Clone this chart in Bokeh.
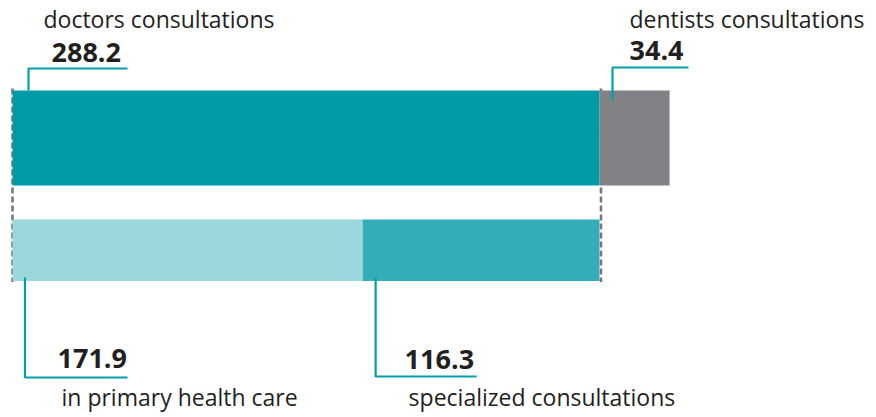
from bokeh.plotting import figure
from bokeh.models import Range1d, ColumnDataSource
from bokeh.core.properties import value
from bokeh.embed import file_html
from bokeh.resources import INLINE

# ---- data ----
top_labels = ["doctors consultations", "dentists consultations"]
top_values = [288.2, 34.4]
bottom_labels = ["in primary health care", "specialized consultations"]
bottom_values = [171.9, 116.3]
top_colors = ["#009ba6", "#808285"]
bottom_colors = ["#9cd8db", "#34adb8"]

# ---- layout ----
W, H = 876, 417
PX0 = 12           # plot px of value 0
PX_TOTAL = 599     # plot px of doctors total
s = (PX_TOTAL - PX0) / top_values[0]   # px per unit
def u(px):
    return px / s

TOP_Y, TOP_H = 137.5, 95
BOT_Y, BOT_H = 249.75, 61.5
TXT_SHIFT = -8

p = figure(width=W, height=H, x_range=Range1d(-u(PX0), u(W - PX0)),
           y_range=Range1d(H, 0), output_backend="svg", toolbar_location=None,
           min_border=0)
p.axis.visible = False
p.grid.visible = False
p.outline_line_color = None
p.background_fill_color = "white"
p.border_fill_color = "white"

doctors = top_values[0]
top_left = [0, top_values[0]]
top_right = [top_values[0], top_values[0] + top_values[1]]
bot_left = [0, bottom_values[0]]
bot_right = [bottom_values[0], bottom_values[0] + bottom_values[1]]

# dashed brackets (behind bars)
top_edge = TOP_Y - TOP_H / 2
bot_edge = BOT_Y + BOT_H / 2
p.multi_line(xs=[[0, 0], [doctors + u(1.5), doctors + u(1.5)]],
             ys=[[top_edge - 2, bot_edge + 1], [top_edge - 2, bot_edge + 1]],
             line_color="#77787b", line_width=2.6, line_dash="6 3")

p.hbar(y=[TOP_Y] * 2, left=top_left, right=top_right, height=TOP_H,
       fill_color=top_colors, line_color=None)
p.hbar(y=[BOT_Y] * 2, left=bot_left, right=bot_right, height=BOT_H,
       fill_color=bottom_colors, line_color=None)

# callout lines
teal = "#00a0aa"
callouts_xs = [
    [top_left[0] + u(16), top_left[0] + u(16), top_left[0] + u(115)],
    [top_left[1] + u(13), top_left[1] + u(13), top_left[1] + u(89)],
    [bot_left[0] + u(12.5), bot_left[0] + u(12.5), bot_left[0] + u(115)],
    [bot_left[1] + u(13), bot_left[1] + u(13), bot_left[1] + u(114)],
]
callouts_ys = [
    [top_edge, 68, 68],
    [100, 67, 67],
    [277, 377, 377],
    [277, 376, 376],
]
p.multi_line(xs=callouts_xs, ys=callouts_ys, line_color=teal, line_width=2.2)

dark = "#231f20"
# numbers
num_src = ColumnDataSource(dict(
    x=[top_left[0] + u(39), top_left[1] + u(30), bot_left[0] + u(45), bot_left[1] + u(42)],
    y=[60 + TXT_SHIFT, 58 + TXT_SHIFT, 366 + TXT_SHIFT, 367 + TXT_SHIFT],
    t=[f"{v:.1f}" for v in (top_values + bottom_values)],
))
p.text(x="x", y="y", text="t", source=num_src, text_font=value("Open Sans"),
       text_font_style="bold", text_font_size="27px", text_color=dark,
       text_baseline="alphabetic", text_align="left")

lab_src = ColumnDataSource(dict(
    x=[top_left[0] + u(31), top_left[1] + u(30), bot_left[0] + u(49), bot_left[1] + u(46)],
    y=[26 + TXT_SHIFT, 26 + TXT_SHIFT, 404 + TXT_SHIFT, 404 + TXT_SHIFT],
    t=top_labels + bottom_labels,
))
p.text(x="x", y="y", text="t", source=lab_src, text_font=value("Open Sans"),
       text_font_size="23px", text_color=dark,
       text_baseline="alphabetic", text_align="left")

open("out.html", "w").write(file_html(p, INLINE))
